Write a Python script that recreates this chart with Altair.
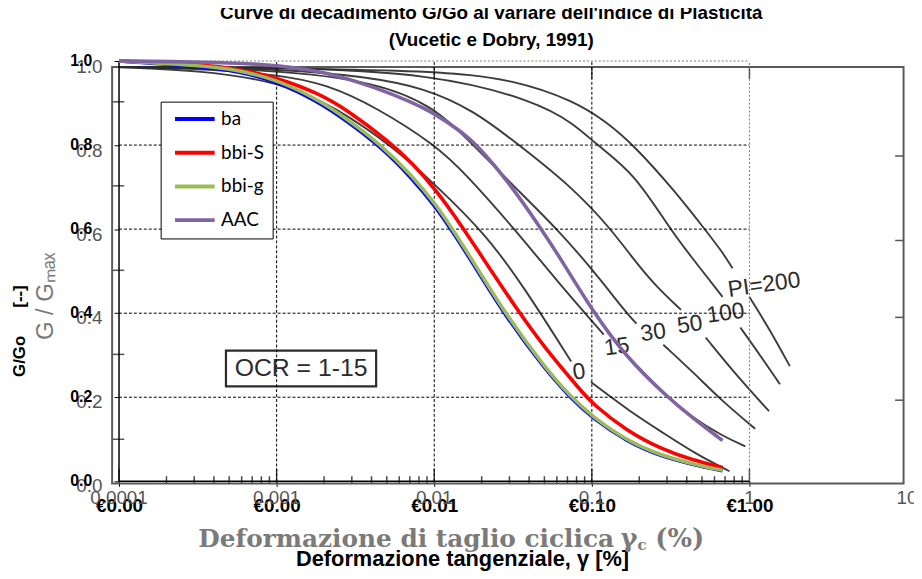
import altair as alt
import pandas as pd

# ---------------- text ----------------
TITLE_1 = "Curve di decadimento G/Go al variare dell'indice di Plasticità"
TITLE_2 = "(Vucetic e Dobry, 1991)"
X_TITLE = "Deformazione tangenziale, γ [%]"
Y_TITLE = "G/Go\u00a0\u00a0\u00a0\u00a0\u00a0\u00a0[--]"

# ---------------- axes ----------------
X_DOMAIN = [0.0001, 10.0]
Y_DOMAIN = [0.0, 1.0]
x_ticks = [0.0001, 0.001, 0.01, 0.1, 1.0]
y_ticks = [0.0, 0.2, 0.4, 0.6, 0.8, 1.0]
y_tick_labels = ["0.0", "0.2", "0.4", "0.6", "0.8", "1.0"]
Y_LABEL_X = 0.0000676       # where the Excel y labels end (left of the axis)
SCAN_Y_LABEL_X = 0.0000648  # centre of the scanned y labels

# ---------------- Excel series (strain %, G/Go) ----------------
series_names = ["ba", "bbi-S", "bbi-g", "AAC"]
series_colors = ["#0000FF", "#FF0000", "#9BBB59", "#8064A2"]

ba_x = [0.0001, 0.000318, 0.000567, 0.00101, 0.0018, 0.00278, 0.00461, 0.00711, 0.0102,
        0.0136, 0.0182, 0.0281, 0.05, 0.0739, 0.1, 0.166, 0.272, 0.438, 0.675]
ba_y = [1.0, 0.988, 0.976, 0.951, 0.905, 0.858, 0.795, 0.724, 0.654,
        0.584, 0.51, 0.395, 0.268, 0.197, 0.152, 0.095, 0.060, 0.040, 0.025]
bbis_x = [0.0001, 0.000318, 0.000567, 0.00101, 0.0018, 0.00278, 0.00532, 0.00711, 0.0102,
          0.0151, 0.0226, 0.0334, 0.05, 0.0855, 0.1, 0.166, 0.272, 0.438, 0.675]
bbis_y = [1.0, 0.992, 0.982, 0.96, 0.925, 0.885, 0.805, 0.76, 0.695,
          0.605, 0.505, 0.41, 0.318, 0.215, 0.186, 0.12, 0.078, 0.05, 0.033]
bbig_x = [0.0001, 0.000318, 0.000567, 0.00101, 0.0018, 0.00278, 0.00461, 0.00711, 0.0102,
          0.0136, 0.0182, 0.0281, 0.05, 0.0739, 0.1, 0.166, 0.272, 0.438, 0.675]
bbig_y = [1.0, 0.99, 0.979, 0.955, 0.91, 0.863, 0.80, 0.73, 0.66,
          0.59, 0.515, 0.40, 0.272, 0.20, 0.155, 0.097, 0.062, 0.041, 0.026]
aac_x = [0.0001, 0.000318, 0.000567, 0.00101, 0.00208, 0.00429, 0.00691, 0.0102, 0.0151,
         0.0187, 0.0293, 0.0479, 0.0621, 0.103, 0.166, 0.292, 0.438, 0.675]
aac_y = [1.0, 0.998, 0.995, 0.99, 0.974, 0.936, 0.905, 0.874, 0.83,
         0.80, 0.715, 0.60, 0.535, 0.40, 0.295, 0.205, 0.15, 0.097]

# ---------------- scanned Vucetic & Dobry curves (PI) ----------------
pi0_up_x = [0.0001, 0.000318, 0.00101, 0.0024, 0.00573, 0.0102, 0.021, 0.0375, 0.0739]
pi0_up_y = [0.985, 0.978, 0.952, 0.89, 0.79, 0.705, 0.59, 0.46, 0.285]
pi0_lo_x = [0.0987, 0.176, 0.284, 0.457, 0.747]
pi0_lo_y = [0.236, 0.165, 0.115, 0.065, 0.024]
pi15_up_x = [0.0001, 0.000318, 0.00101, 0.00208, 0.00429, 0.0102, 0.0157, 0.0324, 0.0621, 0.119]
pi15_up_y = [0.986, 0.982, 0.968, 0.945, 0.89, 0.80, 0.733, 0.60, 0.47, 0.349]
pi15_lo_x = [0.176, 0.284, 0.438, 0.675, 0.942]
pi15_lo_y = [0.29, 0.21, 0.15, 0.108, 0.083]
pi30_up_x = [0.0001, 0.00101, 0.00429, 0.0102, 0.0177, 0.0324, 0.0604, 0.103, 0.166, 0.192]
pi30_up_y = [0.986, 0.98, 0.95, 0.89, 0.80, 0.70, 0.60, 0.50, 0.40, 0.375]
pi30_lo_x = [0.284, 0.438, 0.675, 1.087]
pi30_lo_y = [0.325, 0.26, 0.19, 0.125]
pi50_up_x = [0.0001, 0.00101, 0.0102, 0.0324, 0.0772, 0.132, 0.176, 0.2455, 0.368]
pi50_up_y = [0.986, 0.984, 0.95, 0.809, 0.696, 0.60, 0.538, 0.47, 0.408]
pi50_lo_x = [0.528, 0.837, 1.331]
pi50_lo_y = [0.342, 0.25, 0.167]
pi100_up_x = [0.0001, 0.00101, 0.0102, 0.0433, 0.0772, 0.1076, 0.184, 0.314, 0.419, 0.675]
pi100_up_y = [0.986, 0.986, 0.97, 0.905, 0.851, 0.80, 0.735, 0.60, 0.538, 0.439]
pi100_lo_x = [0.875, 1.169, 1.56]
pi100_lo_y = [0.366, 0.30, 0.231]
pi200_up_x = [0.0001, 0.0102, 0.0324, 0.0772, 0.124, 0.184, 0.327, 0.52, 0.675, 0.78]
pi200_up_y = [0.986, 0.98, 0.955, 0.905, 0.855, 0.80, 0.696, 0.60, 0.545, 0.507]
pi200_lo_x = [0.997, 1.351, 1.803]
pi200_lo_y = [0.439, 0.36, 0.274]

pi_labels = ["0", "15", "30", "50", "100", "PI=200"]
pi_label_x = [0.083, 0.144, 0.245, 0.419, 0.705, 1.24]
pi_label_y = [0.26, 0.32, 0.354, 0.373, 0.40, 0.467]

ocr_text = ["OCR = 1-15"]
ocr_x = [0.00143]
ocr_y = [0.269]
ocr_box_x = [0.000477, 0.00428]
ocr_box_y = [0.226, 0.311]

# scanned figure frame, its ticks and tick labels
scan_frame_x = [0.0000904, 9.5]
scan_frame_y = [-0.005, 0.986]
scan_x_labels = ["0.0001", "0.001", "0.01", "0.1", "1", "10"]
scan_x_values = [0.0001, 0.001, 0.01, 0.1, 1.0, 10.0]
scan_y_labels = ["0.0", "0.2", "0.4", "0.6", "0.8", "1.0"]
scan_y_values = [-0.012, 0.188, 0.388, 0.587, 0.786, 0.985]
scan_minor_mult = [2, 3, 4, 5, 6, 7, 8, 9]
scan_minor_decades = [0.0001, 0.001, 0.01, 0.1]
scan_top_ticks = [0.001, 0.01, 0.1, 1.0]
scan_left_ticks = [0.10, 0.302, 0.502, 0.703, 0.903]
scan_right_ticks = [0.193, 0.39, 0.573, 0.774]

# Excel grid
grid_x = [0.001, 0.01, 0.1]
grid_y = [0.2, 0.4, 0.6, 0.8]

# ---------------- data frames ----------------
rows = []
for name, xs, ys in [("ba", ba_x, ba_y), ("bbi-S", bbis_x, bbis_y),
                     ("bbi-g", bbig_x, bbig_y), ("AAC", aac_x, aac_y)]:
    for a, b in zip(xs, ys):
        rows.append({"serie": name, "strain": a, "ratio": b})
excel_df = pd.DataFrame(rows)

srows = []
for seg, xs, ys in [("0a", pi0_up_x, pi0_up_y), ("0b", pi0_lo_x, pi0_lo_y),
                    ("15a", pi15_up_x, pi15_up_y), ("15b", pi15_lo_x, pi15_lo_y),
                    ("30a", pi30_up_x, pi30_up_y), ("30b", pi30_lo_x, pi30_lo_y),
                    ("50a", pi50_up_x, pi50_up_y), ("50b", pi50_lo_x, pi50_lo_y),
                    ("100a", pi100_up_x, pi100_up_y), ("100b", pi100_lo_x, pi100_lo_y),
                    ("200a", pi200_up_x, pi200_up_y), ("200b", pi200_lo_x, pi200_lo_y)]:
    for a, b in zip(xs, ys):
        srows.append({"seg": seg, "strain": a, "ratio": b})
scan_df = pd.DataFrame(srows)

vticks_df = pd.DataFrame(
    [{"strain": d * m, "y0": -0.005, "y1": 0.012} for d in scan_minor_decades for m in scan_minor_mult]
    + [{"strain": v, "y0": -0.005, "y1": 0.03} for v in scan_x_values[:-1]]
    + [{"strain": v, "y0": 0.958, "y1": 0.986} for v in scan_top_ticks])
hticks_df = pd.DataFrame(
    [{"ratio": v, "x0": scan_frame_x[0], "x1": 0.000108} for v in scan_left_ticks]
    + [{"ratio": v, "x0": 8.4, "x1": scan_frame_x[1]} for v in scan_right_ticks])

XS = alt.Scale(type="log", domain=X_DOMAIN)
YS = alt.Scale(domain=Y_DOMAIN)

x_axis = alt.Axis(values=x_ticks, labelExpr="'€' + format(datum.value, '.2f')",
                  title=X_TITLE, titleX=346, titleY=85, titleAlign="center",
                  titleBaseline="alphabetic")
y_axis = alt.Axis(values=y_ticks, labels=False, title=Y_TITLE, titleX=-100, titleY=272,
                  titleAngle=270, titleAlign="center", titleBaseline="middle")


def X(field):
    return alt.X(field, scale=XS, axis=x_axis)


def Y(field):
    return alt.Y(field, scale=YS, axis=y_axis)


# scanned frame
frame = alt.Chart(pd.DataFrame({"x": [scan_frame_x[0]], "x2": [scan_frame_x[1]],
                                "y": [scan_frame_y[0]], "y2": [scan_frame_y[1]]})).mark_rect(
    fill="white", fillOpacity=0, stroke="#5a5a5a", strokeWidth=2
).encode(x=X("x:Q"), x2="x2:Q", y=Y("y:Q"), y2="y2:Q")

scan_vticks = alt.Chart(vticks_df).mark_rule(color="#444", strokeWidth=1.5).encode(
    x=X("strain:Q"), y=Y("y0:Q"), y2="y1:Q")
scan_hticks = alt.Chart(hticks_df).mark_rule(color="#555", strokeWidth=1.5).encode(
    y=Y("ratio:Q"), x=X("x0:Q"), x2="x1:Q")

scan_lines = alt.Chart(scan_df).mark_line(color="#2b2b2b", strokeWidth=1.9,
                                          interpolate="basis", opacity=0.92).encode(
    x=X("strain:Q"), y=Y("ratio:Q"), detail="seg:N")

pi_text = alt.Chart(pd.DataFrame({"t": pi_labels, "x": pi_label_x, "y": pi_label_y})).mark_text(
    font="Liberation Sans", fontSize=23, color="#2b2b2b", angle=352,
    align="center", baseline="middle").encode(x=X("x:Q"), y=Y("y:Q"), text="t:N")

ocr_box = alt.Chart(pd.DataFrame({"x": [ocr_box_x[0]], "x2": [ocr_box_x[1]],
                                  "y": [ocr_box_y[0]], "y2": [ocr_box_y[1]]})).mark_rect(
    fill="white", fillOpacity=0, stroke="#2b2b2b", strokeWidth=2.2
).encode(x=X("x:Q"), x2="x2:Q", y=Y("y:Q"), y2="y2:Q")
ocr_lbl = alt.Chart(pd.DataFrame({"t": ocr_text, "x": ocr_x, "y": ocr_y})).mark_text(
    font="Liberation Sans", fontSize=25, color="#2b2b2b", align="center",
    baseline="middle").encode(x=X("x:Q"), y=Y("y:Q"), text="t:N")

scan_xl = alt.Chart(pd.DataFrame({"t": scan_x_labels, "x": scan_x_values,
                                  "y": [0.0] * 6})).mark_text(
    font="Liberation Sans", fontSize=19, color="#555", align="center",
    baseline="middle", dy=17).encode(x=X("x:Q"), y=Y("y:Q"), text="t:N")
scan_yl = alt.Chart(pd.DataFrame({"t": scan_y_labels, "y": scan_y_values,
                                  "x": [SCAN_Y_LABEL_X] * 6})).mark_text(
    font="Liberation Sans", fontSize=19, color="#555", align="center",
    baseline="middle").encode(x=X("x:Q"), y=Y("y:Q"), text="t:N")
excel_yl = alt.Chart(pd.DataFrame({"t": y_tick_labels, "y": y_ticks,
                                   "x": [Y_LABEL_X] * 6})).mark_text(
    font="Liberation Sans", fontWeight="bold", fontSize=16, color="black", align="right",
    baseline="middle").encode(x=X("x:Q"), y=Y("y:Q"), text="t:N")

anchor_df = pd.DataFrame({"x": [X_DOMAIN[0]], "y": [0.0]})


def scan_title_part(txt, dx, dy, size):
    return alt.Chart(anchor_df).mark_text(
        text=txt, font="DejaVu Serif", fontWeight="bold", color="#7a7a7a", align="left",
        baseline="middle", dx=dx, dy=dy, fontSize=size).encode(x=X("x:Q"), y=Y("y:Q"))


st1 = scan_title_part("Deformazione di taglio ciclica", 80, 58, 25)
st2 = scan_title_part("γ", 506, 58, 26)
st3 = scan_title_part("c", 523, 64, 15)
st4 = scan_title_part("(%)", 541, 58, 26)

gmax = alt.Chart(pd.DataFrame({"x": [X_DOMAIN[0]], "y": [0.44]})).mark_text(
    text="G / Gₘₐₓ", font="Liberation Sans", fontSize=24, color="#7a7a7a", angle=270,
    align="center", baseline="middle", dy=-74).encode(x=X("x:Q"), y=Y("y:Q"))

# Excel grid and plot area
vgrid = alt.Chart(pd.DataFrame({"x": grid_x, "y0": 0.0, "y1": 1.0})).mark_rule(
    color="black", strokeWidth=1, strokeDash=[3, 2]).encode(x=X("x:Q"), y=Y("y0:Q"), y2="y1:Q")
hgrid = alt.Chart(pd.DataFrame({"y": grid_y, "x0": X_DOMAIN[0], "x1": 1.0})).mark_rule(
    color="black", strokeWidth=1, strokeDash=[3, 2]).encode(y=Y("y:Q"), x=X("x0:Q"), x2="x1:Q")
border_v = alt.Chart(pd.DataFrame({"x": [1.0], "y0": [0.0], "y1": [1.0]})).mark_rule(
    color="#777", strokeWidth=1, strokeDash=[2, 2]).encode(x=X("x:Q"), y=Y("y0:Q"), y2="y1:Q")
border_h = alt.Chart(pd.DataFrame({"y": [1.0], "x0": [X_DOMAIN[0]], "x1": [1.0]})).mark_rule(
    color="#777", strokeWidth=1, strokeDash=[2, 2]).encode(y=Y("y:Q"), x=X("x0:Q"), x2="x1:Q")
axis_left = alt.Chart(pd.DataFrame({"x": [X_DOMAIN[0]], "y0": [0.0], "y1": [1.0]})).mark_rule(
    color="black", strokeWidth=1.5).encode(x=X("x:Q"), y=Y("y0:Q"), y2="y1:Q")
axis_bottom = alt.Chart(pd.DataFrame({"y": [0.0], "x0": [X_DOMAIN[0]], "x1": [1.0]})).mark_rule(
    color="black", strokeWidth=1.5).encode(y=Y("y:Q"), x=X("x0:Q"), x2="x1:Q")

excel = alt.Chart(excel_df).mark_line(strokeWidth=3.6, interpolate="basis").encode(
    x=X("strain:Q"),
    y=Y("ratio:Q"),
    color=alt.Color("serie:N", scale=alt.Scale(domain=series_names, range=series_colors),
                    legend=alt.Legend(orient="none", legendX=42, legendY=41, title=None,
                                      symbolType="M-4,0H4", symbolStrokeWidth=4,
                                      symbolSize=100, labelFont="Lato", labelFontSize=19,
                                      labelColor="black", labelOffset=17, padding=8,
                                      rowPadding=14, symbolOffset=17,
                                      labelExpr="datum.label + '\u00a0\u00a0\u00a0'",
                                      fillColor="white", strokeColor="black")),
    order=alt.Order("strain:Q"))

chart = alt.layer(
    frame, scan_vticks, scan_hticks, scan_lines, pi_text, ocr_box, ocr_lbl,
    scan_xl, scan_yl, excel_yl, st1, st2, st3, st4, gmax,
    vgrid, hgrid, border_v, border_h, axis_left, axis_bottom, excel
).properties(
    width=795, height=424,
    autosize=alt.AutoSizeParams(type="none"),
    padding={"left": 112, "top": 51, "right": 7, "bottom": 88},
    title=alt.TitleParams(text=[TITLE_1, TITLE_2], font="Liberation Sans", fontSize=19,
                          fontWeight="bold", color="black", anchor="middle", dx=-22,
                          offset=3, lineHeight=27),
    background="white"
).configure_view(
    stroke=None
).configure_axis(
    domain=False, grid=False, ticks=True, tickColor="black", tickSize=5,
    labelFont="Liberation Sans", labelFontWeight="bold", labelColor="black",
    titleFont="Liberation Sans", titleFontWeight="bold", titleColor="black",
    labelOverlap=False, labelFlush=False
).configure_axisX(
    labelFontSize=19, labelPadding=10, titleFontSize=22
).configure_axisY(
    titleFontSize=17
)

chart.save("out.html", embed_options={"renderer": "svg", "actions": False})
